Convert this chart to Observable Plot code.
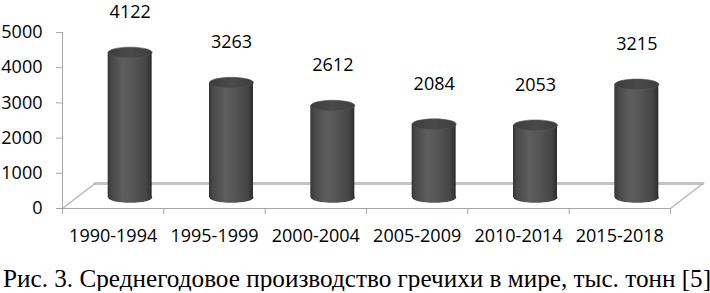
<!DOCTYPE html>
<html>
<head>
<meta charset="utf-8">
<script src="https://cdn.jsdelivr.net/npm/d3@7"></script>
<script src="https://cdn.jsdelivr.net/npm/@observablehq/plot@0.6"></script>
<style>
  body { margin: 0; background: #fff; }
  #chart svg { display: block; }
  #chart g[aria-label="y-axis tick"], #chart g[aria-label="x-axis tick"] { stroke: #a6a6a6; }
  #chart .tick line { stroke: #a6a6a6; }
  #cap {
    font-family: "Liberation Serif", "Times New Roman", serif;
    font-size: 25.2px; line-height: 24px; white-space: nowrap;
    margin-top: 17px; margin-left: 3px; color: #000;
  }
</style>
</head>
<body>
<div id="chart"></div>
<div id="cap">Рис. 3. Среднегодовое производство гречихи в мире, тыс. тонн [5]</div>
<script>
const periods = ["1990-1994", "1995-1999", "2000-2004", "2005-2009", "2010-2014", "2015-2018"];
const values = [4122, 3263, 2612, 2084, 2053, 3215];
const yTicks = [0, 1000, 2000, 3000, 4000, 5000];
const xBounds = [0, 1, 2, 3, 4, 5, 6];

const data = periods.map((p, i) => ({period: p, value: values[i], c: i + 0.5}));

// 3D depth of the floor (in data units) and cylinder offset (pixels)
const FDX = 0.32, FDY = 710;
const floorBack = [{x: FDX, y: FDY}, {x: 6 + FDX, y: FDY}];
const floorLeft = [{x: 0, y: 0}, {x: FDX, y: FDY}];
const floorRight = [{x: 6, y: 0}, {x: 6 + FDX, y: FDY}];
const HALF = 0.217; // half cylinder width in category units
const CDX = 17, CDY = -11;

const ellipse = {
  draw(context, size) {
    const r = Math.sqrt(size / Math.PI), rx = r, ry = r * 0.24, k = 0.5523;
    context.moveTo(-rx, 0);
    context.bezierCurveTo(-rx, -ry * k, -rx * k, -ry, 0, -ry);
    context.bezierCurveTo(rx * k, -ry, rx, -ry * k, rx, 0);
    context.bezierCurveTo(rx, ry * k, rx * k, ry, 0, ry);
    context.bezierCurveTo(-rx * k, ry, -rx, ry * k, -rx, 0);
    context.closePath();
  }
};

const chart = Plot.plot({
  width: 710,
  height: 250,
  marginLeft: 62,
  marginRight: 40,
  marginTop: 32,
  marginBottom: 42,
  style: {fontFamily: "Open Sans", fontSize: "18px", color: "#000", background: "#fff"},
  x: {domain: [0, 6], ticks: xBounds, tickSize: 6, tickFormat: () => "", label: null},
  y: {domain: [0, 5000], ticks: yTicks, tickSize: 6, tickPadding: 14, label: null, tickFormat: d => String(d)},
  marks: [
    Plot.line(floorBack, {x: "x", y: "y", stroke: "#c4c4c4", strokeWidth: 3}),
    Plot.line(floorLeft, {x: "x", y: "y", stroke: "#b4b4b4", strokeWidth: 1.2}),
    Plot.line(floorRight, {x: "x", y: "y", stroke: "#b4b4b4", strokeWidth: 1.2}),
    Plot.ruleX([0], {stroke: "#a6a6a6"}),
    Plot.ruleY([0], {stroke: "#a6a6a6"}),
    Plot.dot(data, {x: "c", y: 0, r: 22, symbol: ellipse, fill: "url(#cyl)", dx: CDX, dy: CDY}),
    Plot.rectY(data, {x1: d => d.c - HALF, x2: d => d.c + HALF, y1: 0, y2: "value", fill: "url(#cyl)", dx: CDX, dy: CDY}),
    Plot.dot(data, {x: "c", y: "value", r: 22, symbol: ellipse, fill: "url(#top)", stroke: "#555", strokeWidth: 0.6, dx: CDX, dy: CDY}),
    Plot.text(data, {x: "c", y: "value", text: d => String(d.value), dx: CDX, dy: CDY - 40, fill: "#000"}),
    Plot.text(data, {x: "c", y: 0, text: "period", dy: 28, fill: "#000"})
  ]
});

const ns = "http://www.w3.org/2000/svg";
const defs = document.createElementNS(ns, "defs");
defs.innerHTML = `
  <linearGradient id="cyl" x1="0" x2="1" y1="0" y2="0">
    <stop offset="0" stop-color="#333"/>
    <stop offset="0.08" stop-color="#474747"/>
    <stop offset="0.35" stop-color="#5e5e5e"/>
    <stop offset="0.6" stop-color="#555"/>
    <stop offset="0.88" stop-color="#444"/>
    <stop offset="1" stop-color="#2c2c2c"/>
  </linearGradient>
  <linearGradient id="top" x1="0" x2="1" y1="0" y2="0">
    <stop offset="0" stop-color="#3c3c3c"/>
    <stop offset="0.5" stop-color="#4a4a4a"/>
    <stop offset="1" stop-color="#3e3e3e"/>
  </linearGradient>`;
chart.insertBefore(defs, chart.firstChild);
document.getElementById("chart").appendChild(chart);
</script>
</body>
</html>
